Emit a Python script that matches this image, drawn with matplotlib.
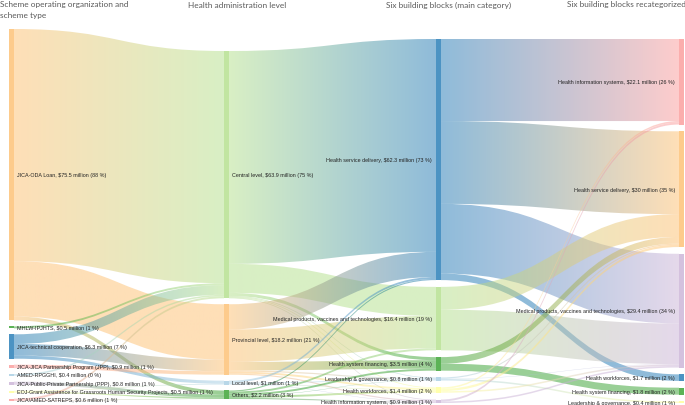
import numpy as np
import matplotlib
matplotlib.use('Agg')
import matplotlib.pyplot as plt
from matplotlib.path import Path
from matplotlib.patches import PathPatch, Rectangle
from matplotlib.colors import to_rgba

# Column headers
HEADERS = ['Scheme operating organization and\nscheme type',
           'Health administration level',
           'Six building blocks (main category)',
           'Six building blocks recategorized']

# Column 1: scheme operating organization and scheme type
SCHEME_NAMES = ['JICA-ODA Loan', 'MHLW-IPJHTS', 'JICA-technical cooperation',
                'JICA-JICA Partnership Program (JPP)', 'AMED-RPGGHI',
                'JICA-Public-Private Partnership (PPP)',
                'EOJ-Grant Assistance for Grassroots Human Security Projects',
                'JICA/AMED-SATREPS']
SCHEME_VALUES = [75.5, 0.5, 6.3, 0.9, 0.4, 0.8, 0.5, 0.6]
SCHEME_SHARES = [88, 1, 7, 1, 0, 1, 1, 1]

# Column 2: health administration level
LEVEL_NAMES = ['Central level', 'Provincial level', 'Local level', 'Others']
LEVEL_VALUES = [63.9, 18.2, 1, 2.2]
LEVEL_SHARES = [75, 21, 1, 3]

# Column 3: six building blocks (main category)
BLOCK_NAMES = ['Health service delivery', 'Medical products, vaccines and technologies',
               'Health system financing', 'Leadership & governance',
               'Health workforces', 'Health information systems']
BLOCK_VALUES = [62.3, 16.4, 3.5, 0.8, 1.4, 0.9]
BLOCK_SHARES = [73, 19, 4, 1, 2, 1]

# Column 4: six building blocks recategorized
RECAT_NAMES = ['Health information systems', 'Health service delivery',
               'Medical products, vaccines and technologies', 'Health workforces',
               'Health system financing', 'Leadership & governance']
RECAT_VALUES = [22.1, 30, 29.4, 1.7, 1.8, 0.4]
RECAT_SHARES = [26, 35, 34, 2, 2, 1]

# Flows between neighbouring columns: (source index, target index, $ million)
FLOWS_SCHEME_LEVEL = [(0, 0, 60.0), (0, 1, 14.3), (0, 3, 1.0),
                      (1, 0, 0.5),
                      (2, 0, 2.5), (2, 1, 3.0), (2, 2, 0.8),
                      (3, 1, 0.9),
                      (4, 0, 0.4),
                      (5, 3, 0.8),
                      (6, 2, 0.2), (6, 3, 0.3),
                      (7, 0, 0.5), (7, 3, 0.1)]
FLOWS_LEVEL_BLOCK = [(0, 0, 55.0), (0, 1, 7.5), (0, 2, 0.8), (0, 3, 0.2), (0, 4, 0.2), (0, 5, 0.2),
                     (1, 0, 6.5), (1, 1, 8.4), (1, 2, 2.2), (1, 3, 0.3), (1, 4, 0.5), (1, 5, 0.3),
                     (2, 0, 0.5), (2, 3, 0.2), (2, 4, 0.2), (2, 5, 0.1),
                     (3, 0, 0.3), (3, 1, 0.5), (3, 2, 0.5), (3, 3, 0.1), (3, 4, 0.5), (3, 5, 0.3)]
FLOWS_BLOCK_RECAT = [(0, 0, 21.2), (0, 1, 21.4), (0, 2, 18.0), (0, 3, 1.7),
                     (1, 1, 5.9), (1, 2, 10.5),
                     (2, 1, 1.7), (2, 4, 1.8),
                     (3, 1, 0.3), (3, 2, 0.1), (3, 5, 0.4),
                     (4, 0, 0.4), (4, 1, 0.6), (4, 2, 0.4),
                     (5, 0, 0.5), (5, 2, 0.4)]

# Style / layout
W, H = 685, 406
NODE_X = [9, 224, 436, 679]
NODE_W = 5
COL_TOP = [30, 52, 40, 40]
COL_BOTTOM = [402, 400, 404, 404]
SCALE = 3.87  # px per $ million
NODE_ALPHA = 0.8
LINK_ALPHA = 0.5
LABEL_FONT = 'Liberation Sans'
LABEL_SIZE = 3.9
HEADER_FONT = 'Lato'
HEADER_SIZE = 5.95
HEADER_COLOUR = '#595959'

SCHEME_COLOURS = ['#fdbf6f', '#33a02c', '#1f78b4', '#fb9a99', '#a6cee3', '#cab2d6', '#ffff99', '#fb9a99']
LEVEL_COLOURS = ['#b2df8a', '#fdbf6f', '#a6cee3', '#33a02c']
BLOCK_COLOURS = ['#1f78b4', '#b2df8a', '#33a02c', '#a6cee3', '#ffff99', '#cab2d6']
RECAT_COLOURS = ['#fb9a99', '#fdbf6f', '#cab2d6', '#1f78b4', '#33a02c', '#ffff99']

names = [SCHEME_NAMES, LEVEL_NAMES, BLOCK_NAMES, RECAT_NAMES]
values = [SCHEME_VALUES, LEVEL_VALUES, BLOCK_VALUES, RECAT_VALUES]
shares = [SCHEME_SHARES, LEVEL_SHARES, BLOCK_SHARES, RECAT_SHARES]
colours = [SCHEME_COLOURS, LEVEL_COLOURS, BLOCK_COLOURS, RECAT_COLOURS]
flows = [FLOWS_SCHEME_LEVEL, FLOWS_LEVEL_BLOCK, FLOWS_BLOCK_RECAT]


def node_sizes():
    """Node size = max(inflow, outflow), as in a plotly sankey"""
    sizes = []
    for c in range(len(names)):
        n = len(names[c])
        out_v, in_v = np.zeros(n), np.zeros(n)
        if c < len(flows):
            for s, t, v in flows[c]:
                out_v[s] += v
        if c > 0:
            for s, t, v in flows[c - 1]:
                in_v[t] += v
        sizes.append(np.maximum(in_v, out_v))
    return sizes


def layout(sizes):
    """Stack nodes of every column from top to bottom with equal gaps"""
    tops = []
    for c, sz in enumerate(sizes):
        heights = sz * SCALE
        gap = (COL_BOTTOM[c] - COL_TOP[c] - heights.sum()) / (len(sz) - 1)
        y = COL_TOP[c]
        col = []
        for h in heights:
            col.append(y)
            y += h + gap
        tops.append(np.array(col))
    return tops


def draw_link(ax, x0, x1, ya0, ya1, yb0, yb1, c0, c1):
    xm = (x0 + x1) / 2
    verts = [(x0, ya0), (xm, ya0), (xm, yb0), (x1, yb0),
             (x1, yb1), (xm, yb1), (xm, ya1), (x0, ya1), (x0, ya0)]
    codes = [Path.MOVETO, Path.CURVE4, Path.CURVE4, Path.CURVE4,
             Path.LINETO, Path.CURVE4, Path.CURVE4, Path.CURVE4, Path.CLOSEPOLY]
    patch = PathPatch(Path(verts, codes), facecolor='none', edgecolor='none', lw=0)
    ax.add_patch(patch)
    t = np.linspace(0, 1, 64)[:, None]
    grad = np.zeros((1, 64, 4))
    grad[0, :, :3] = np.array(to_rgba(c0)[:3]) * (1 - t) + np.array(to_rgba(c1)[:3]) * t
    grad[0, :, 3] = LINK_ALPHA
    im = ax.imshow(grad, extent=(x0, x1, H, 0), aspect='auto',
                   interpolation='bilinear', zorder=1)
    im.set_clip_path(patch)


def main():
    fig = plt.figure(figsize=(W / 100, H / 100), dpi=100)
    ax = fig.add_axes([0, 0, 1, 1])

    sizes = node_sizes()
    tops = layout(sizes)
    centres = [tops[c] + sizes[c] * SCALE / 2 for c in range(len(names))]

    # Links
    for c, stage in enumerate(flows):
        out_off = tops[c].copy()
        in_off = tops[c + 1].copy()
        src_y, dst_y = {}, {}
        # order outgoing links by target position, incoming by source position
        for i in sorted(range(len(stage)), key=lambda k: (stage[k][0], centres[c + 1][stage[k][1]])):
            s, t, v = stage[i]
            src_y[i] = out_off[s]
            out_off[s] += v * SCALE
        for i in sorted(range(len(stage)), key=lambda k: (stage[k][1], centres[c][stage[k][0]])):
            s, t, v = stage[i]
            dst_y[i] = in_off[t]
            in_off[t] += v * SCALE
        for i, (s, t, v) in enumerate(stage):
            h = v * SCALE
            draw_link(ax, NODE_X[c] + NODE_W, NODE_X[c + 1],
                      src_y[i], src_y[i] + h, dst_y[i], dst_y[i] + h,
                      colours[c][s], colours[c + 1][t])

    # Nodes and labels
    for c in range(len(names)):
        for j, name in enumerate(names[c]):
            h = sizes[c][j] * SCALE
            ax.add_patch(Rectangle((NODE_X[c], tops[c][j]), NODE_W, max(h, 0.8),
                                   facecolor=colours[c][j], alpha=NODE_ALPHA,
                                   edgecolor='none', zorder=2))
            label = f'{name}, ${values[c][j]:g} million ({shares[c][j]} %)'
            if c < 2:
                x, ha = NODE_X[c] + NODE_W + 3, 'left'
            else:
                x, ha = NODE_X[c] - 4, 'right'
            ax.text(x, centres[c][j], label, ha=ha, va='center',
                    fontsize=LABEL_SIZE, family=LABEL_FONT, color='#222222', zorder=3)

    # Column headers
    header_x = [0, 188, 386, 567]
    for x, header in zip(header_x, HEADERS):
        ax.text(x, 1.5, header, ha='left', va='top', fontsize=HEADER_SIZE,
                family=HEADER_FONT, color=HEADER_COLOUR, linespacing=1.65)

    ax.set_xlim(0, W)
    ax.set_ylim(H, 0)
    ax.axis('off')
    fig.savefig('out.png', dpi=100)


if __name__ == '__main__':
    main()
